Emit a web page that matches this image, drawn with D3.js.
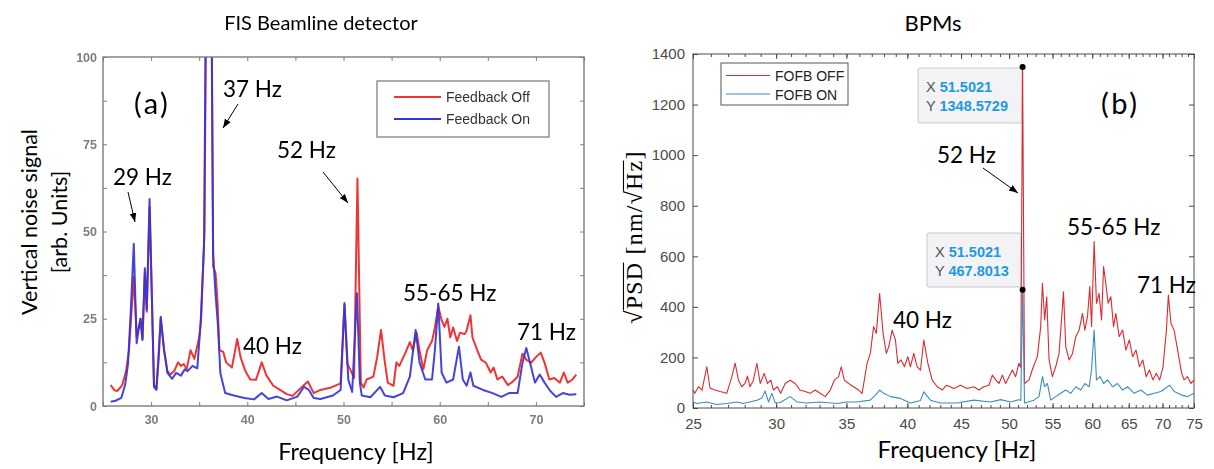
<!DOCTYPE html>
<html>
<head>
<meta charset="utf-8">
<script src="https://cdn.jsdelivr.net/npm/d3@7"></script>
<style>
  body { margin: 0; background: #fff; }
  svg { display: block; }
</style>
</head>
<body>
<svg id="fig" width="1214" height="469"></svg>
<script>
// ---------- (a) FIS beamline detector: vertical noise spectrum [frequency Hz, arb. units] ----------
const fisOff = [
  [25.8,6],[26.2,4.5],[26.5,4.3],[27.0,6],[27.4,10],[27.7,16],[28.2,37],[28.5,19.7],[28.9,25],[29.1,19],
  [29.35,38],[29.55,27],[29.84,57],[30.05,34],[30.3,6],[30.55,5],[31.0,25],[31.35,16],[31.7,10],[32.0,9],
  [32.4,10],[32.8,12.5],[33.1,11.5],[33.4,12],[33.7,10.5],[34.1,16],[34.5,13.5],[35.0,19.7],[35.2,25],
  [35.55,50],[35.8,150],[36.2,150],[36.45,40],[36.7,38],[36.9,30],[37.1,16],[37.5,15.5],[37.8,12.5],
  [38.4,11],[38.95,19.2],[39.3,14],[39.8,10],[40.3,7.6],[40.9,7.5],[41.5,12.5],[42.0,8.7],[42.7,5.8],
  [43.4,4.6],[44.1,3.4],[44.7,2.9],[45.6,5.2],[46.3,7],[46.9,3.7],[47.6,4.6],[48.6,5.2],[49.7,6.5],
  [50.1,29],[50.4,12],[50.7,10.5],[51.1,8],[51.45,65.2],[51.8,6.7],[52.1,5.3],[52.4,7.6],[53.1,8.4],
  [53.5,14],[53.9,21.8],[54.3,12.5],[54.6,6.7],[55.2,5.8],[55.5,12.5],[55.8,11.5],[56.4,15],[56.9,18.3],
  [57.2,16],[57.6,21],[57.9,16],[58.3,10.5],[58.7,16],[59.2,18.6],[59.5,22.5],[59.85,28.5],[60.2,24.6],
  [60.5,22.7],[60.8,25],[61.1,19.7],[61.4,22.5],[61.8,18.6],[62.1,21],[62.6,20.6],[62.8,21.6],[63.2,26],
  [63.4,19.7],[63.9,16],[64.3,13.3],[64.8,12.4],[65.3,9.6],[65.6,11],[66.0,7.6],[66.5,8.4],[67.1,6],
  [67.6,7],[68.1,8.4],[68.6,15],[69.0,13.3],[69.5,12.4],[70.0,14],[70.5,15.3],[70.9,12.4],[71.4,7.6],
  [71.9,8],[72.5,6.7],[72.9,9.6],[73.3,6.7],[73.8,7.6],[74.2,9]
];
const fisOn = [
  [25.8,1.2],[26.3,1.5],[26.9,2.3],[27.3,6],[27.6,12],[27.9,28],[28.2,46.5],[28.5,18],[28.7,22],[28.9,25],
  [29.1,19],[29.35,39.5],[29.55,27.5],[29.84,59.3],[30.05,35],[30.3,5.5],[30.55,4.6],[30.8,14],[31.0,25.6],
  [31.35,16],[31.7,9.4],[32.2,7.8],[32.6,9.5],[33.1,8.7],[33.5,10.5],[33.8,10],[34.3,11.5],[34.8,10.8],
  [35.15,23.7],[35.5,46],[35.8,150],[36.2,150],[36.45,43.8],[36.7,32],[36.95,23],[37.2,9.4],[37.7,3.7],
  [38.6,3],[39.7,2.3],[40.7,1.9],[41.5,3.7],[42.2,2],[43.1,2.7],[44.1,1.6],[45.2,2.7],[45.9,5.5],[46.4,4.6],
  [46.9,2.3],[47.6,2],[48.9,3],[49.7,4.6],[50.1,29.5],[50.5,7.5],[50.9,4],[51.4,32.3],[51.7,6.7],[51.9,3],
  [52.8,2.5],[53.8,5.5],[54.3,3],[55.2,2.5],[56.2,3.7],[56.9,8.4],[57.5,21.8],[57.9,12.5],[58.5,7.6],
  [59.2,7.6],[59.5,16],[59.85,29.4],[60.2,9.6],[60.7,6.7],[61.4,7.6],[62.0,17],[62.4,7.6],[62.8,5.8],
  [63.2,9.6],[63.5,5.8],[64.5,4.6],[65.5,3.7],[66.4,2.6],[67.2,3.7],[68.1,3.7],[68.6,12.3],[69.0,16.6],
  [69.4,12.3],[69.9,6.7],[70.4,9],[70.9,6.7],[71.5,4.3],[72.1,2.6],[72.8,3.7],[73.5,3.2],[74.2,3.4]
];
const fisXTicks = [30, 40, 50, 60, 70];
const fisXMinor = [25, 30, 35, 40, 45, 50, 55, 60, 65, 70, 75];
const fisYTicks = [0, 25, 50, 75, 100];
const fisYMinor = [0, 12.5, 25, 37.5, 50, 62.5, 75, 87.5, 100];
const fisSeries = ["Feedback Off", "Feedback On"];

// ---------- (b) BPMs: sqrt(PSD) spectrum [frequency Hz, nm/sqrt(Hz)] ----------
const bpmOff = [
  [25.0,71],[25.1,58],[25.3,84],[25.5,71],[25.77,163],[25.95,78],[26.24,71],[26.53,65],[26.92,58],
  [27.22,123],[27.42,177],[27.62,110],[27.82,84],[28.02,97],[28.17,126],[28.33,84],[28.54,110],[28.76,177],
  [28.97,97],[29.22,137],[29.44,97],[29.65,110],[29.82,71],[30.08,84],[30.3,58],[30.6,97],[30.94,110],
  [31.28,97],[31.62,71],[31.97,65],[32.33,58],[32.68,71],[33.04,58],[33.41,45],[33.78,71],[34.08,110],
  [34.4,123],[34.6,163],[34.84,110],[35.17,97],[35.55,84],[35.95,71],[36.22,58],[36.4,110],[36.62,177],
  [36.88,216],[37.15,322],[37.37,295],[37.64,453],[37.93,295],[38.2,216],[38.4,242],[38.69,308],[38.97,269],
  [39.17,177],[39.46,190],[39.75,163],[40.04,203],[40.27,163],[40.57,216],[40.87,163],[41.17,150],[41.47,269],
  [41.84,177],[42.24,110],[42.71,84],[43.18,71],[43.6,90],[44.29,77],[44.95,90],[45.6,77],[46.28,84],
  [46.8,71],[47.3,84],[47.84,90],[48.2,130],[48.55,111],[48.9,97],[49.27,130],[49.63,97],[49.99,124],
  [50.36,150],[50.72,124],[51.09,177],[51.3,160],[51.5021,1348.5729],[51.72,97],[52.23,111],[52.73,163],
  [53.2,203],[53.59,322],[53.79,493],[54.06,348],[54.3,440],[54.58,190],[54.98,124],[55.38,163],[55.79,216],
  [56.09,348],[56.33,460],[56.62,242],[57.03,190],[57.46,216],[57.87,282],[58.3,308],[58.73,374],[59.03,308],
  [59.38,361],[59.68,480],[59.91,322],[60.25,658],[60.56,414],[60.91,453],[61.24,348],[61.51,559],[61.81,493],
  [62.13,414],[62.5,440],[62.87,322],[63.18,374],[63.65,282],[64.13,308],[64.6,229],[65.08,269],[65.56,203],
  [66.05,229],[66.54,163],[67.03,190],[67.53,124],[68.03,150],[68.54,111],[69.05,137],[69.56,111],[70.08,163],
  [70.6,308],[70.9,447],[71.3,335],[71.8,308],[72.45,216],[73.0,137],[73.4,111],[73.95,124],[74.5,97],[75.0,111]
];
const bpmOn = [
  [25.0,24],[25.2,18],[25.77,24],[26.33,14],[26.92,18],[27.52,24],[27.92,18],[28.76,31],[29.08,40],
  [29.29,67],[29.5,24],[29.72,58],[29.94,20],[30.27,22],[30.94,45],[31.4,24],[32.1,20],[33.04,24],
  [34.28,18],[35.0,24],[35.8,24],[36.88,31],[37.3,51],[37.64,71],[37.98,58],[38.55,45],[39.4,38],
  [40.27,20],[41.17,30],[41.47,64],[42.08,31],[43.0,20],[44.6,20],[46.28,31],[48.0,24],[49.08,33],
  [50.17,24],[51.09,33],[51.3,30],[51.5021,467.8013],[51.72,20],[52.8,31],[53.39,45],[53.79,124],
  [54.06,84],[54.38,97],[54.78,31],[55.38,45],[56.0,58],[56.62,71],[57.24,58],[57.87,84],[58.51,71],
  [59.03,97],[59.59,84],[59.91,150],[60.25,308],[60.56,111],[61.05,124],[61.51,97],[62.05,111],[62.73,84],
  [63.41,97],[64.13,71],[64.84,84],[65.78,58],[66.75,71],[67.73,51],[68.74,58],[69.76,65],[71.1,90],
  [71.83,65],[73.0,51],[73.95,45],[75.0,58]
];
const bpmXTicks = [25, 30, 35, 40, 45, 50, 55, 60, 65, 70, 75];
const bpmXMinor = d3.range(25, 76, 1);
const bpmYTicks = [0, 200, 400, 600, 800, 1000, 1200, 1400];
const bpmSeries = ["FOFB OFF", "FOFB ON"];
// indices of the two marked points (the 52 Hz line)
const bpmOffTip = bpmOff.findIndex(d => d[1] === d3.max(bpmOff, e => e[1]));
const bpmOnTip = bpmOn.findIndex(d => d[1] === d3.max(bpmOn, e => e[1]));

// ---------- styling ----------
const LABEL_FONT = "Lato, 'Noto Sans', sans-serif";
const TICK_FONT = "'Liberation Sans', Arial, sans-serif";
const SERIF_FONT = "'Liberation Serif', 'DejaVu Serif', serif";
const fisColor = { off: "#ee3434", on: "#3434d8" };
const bpmColor = { off: "#dc2a2f", on: "#3c8cc0" };

const svg = d3.select("#fig");
svg.append("rect").attr("width", 1214).attr("height", 469).attr("fill", "#fff");
const defs = svg.append("defs");
defs.append("marker")
  .attr("id", "head").attr("viewBox", "0 0 10 10").attr("refX", 10).attr("refY", 5)
  .attr("markerWidth", 9).attr("markerHeight", 9).attr("markerUnits", "userSpaceOnUse")
  .attr("orient", "auto")
  .append("path").attr("d", "M0,1.3L10,5L0,8.7z").attr("fill", "#000");
defs.append("filter").attr("id", "soft")
  .append("feGaussianBlur").attr("stdDeviation", 0.45);

function label(g, x, y, txt, size, anchor, spacing) {
  return g.append("text").attr("x", x).attr("y", y).text(txt)
    .attr("font-family", LABEL_FONT).attr("font-size", size)
    .attr("letter-spacing", spacing || 0)
    .attr("text-anchor", anchor || "start").attr("fill", "#000");
}
function arrow(g, x1, y1, x2, y2) {
  g.append("line").attr("x1", x1).attr("y1", y1).attr("x2", x2).attr("y2", y2)
    .attr("stroke", "#000").attr("stroke-width", 1).attr("marker-end", "url(#head)");
}
function styleAxis(g, color, font, size, weight) {
  g.select(".domain").remove();
  g.attr("font-family", font).attr("font-size", size);
  g.selectAll("line").attr("stroke", color);
  g.selectAll("text").attr("fill", color).attr("font-weight", weight || "normal");
}

// =================== panel (a) ===================
const A = { x0: 103, x1: 584, y0: 57, y1: 406 };
const xA = d3.scaleLinear().domain([25, 75]).range([A.x0, A.x1]);
const yA = d3.scaleLinear().domain([0, 100]).range([A.y1, A.y0]);
defs.append("clipPath").attr("id", "clipA").append("rect")
  .attr("x", A.x0).attr("y", A.y0).attr("width", A.x1 - A.x0).attr("height", A.y1 - A.y0);

const gA = svg.append("g");
const gAsoft = gA.append("g").attr("filter", "url(#soft)");
const axA = "#7d7d7d";
gAsoft.append("g").attr("transform", `translate(0,${A.y1})`)
  .call(d3.axisBottom(xA).tickValues(fisXMinor).tickSizeInner(-4).tickSizeOuter(0).tickPadding(9)
    .tickFormat(d => fisXTicks.includes(d) ? d : ""))
  .call(g => styleAxis(g, axA, TICK_FONT, 12.5, "bold"));
gAsoft.append("g").attr("transform", `translate(0,${A.y0})`)
  .call(d3.axisTop(xA).tickValues(fisXMinor).tickSizeInner(-4).tickSizeOuter(0).tickFormat(""))
  .call(g => styleAxis(g, axA, TICK_FONT, 12.5));
gAsoft.append("g").attr("transform", `translate(${A.x0},0)`)
  .call(d3.axisLeft(yA).tickValues(fisYMinor).tickSizeInner(-4).tickSizeOuter(0).tickPadding(6)
    .tickFormat(d => fisYTicks.includes(d) ? d : ""))
  .call(g => styleAxis(g, axA, TICK_FONT, 12.5, "bold"));
gAsoft.append("g").attr("transform", `translate(${A.x1},0)`)
  .call(d3.axisRight(yA).tickValues(fisYMinor).tickSizeInner(-4).tickSizeOuter(0).tickFormat(""))
  .call(g => styleAxis(g, axA, TICK_FONT, 12.5));

const lineA = d3.line().x(d => xA(d[0])).y(d => yA(d[1]));
const plotA = gAsoft.append("g").attr("clip-path", "url(#clipA)");
plotA.append("path").datum(fisOff).attr("d", lineA).attr("fill", "none")
  .attr("stroke", fisColor.off).attr("stroke-width", 2).attr("stroke-linejoin", "round");
plotA.append("path").datum(fisOn).attr("d", lineA).attr("fill", "none")
  .attr("stroke", fisColor.on).attr("stroke-width", 2).attr("stroke-linejoin", "round")
  .attr("stroke-opacity", 0.92);

gAsoft.append("rect").attr("x", A.x0).attr("y", A.y0).attr("width", A.x1 - A.x0).attr("height", A.y1 - A.y0)
  .attr("fill", "none").attr("stroke", axA).attr("stroke-width", 1.4);

// legend (a)
const legA = gAsoft.append("g").attr("transform", "translate(377,81)");
legA.append("rect").attr("width", 172).attr("height", 56).attr("fill", "#fff")
  .attr("stroke", "#8a8a8a").attr("stroke-width", 1.4);
[fisColor.off, fisColor.on].forEach((c, i) => {
  legA.append("line").attr("x1", 17).attr("x2", 64).attr("y1", 16 + i * 22).attr("y2", 16 + i * 22)
    .attr("stroke", c).attr("stroke-width", 2);
  legA.append("text").attr("x", 69).attr("y", 21 + i * 22).text(fisSeries[i])
    .attr("font-family", TICK_FONT).attr("font-size", 14).attr("fill", "#333");
});

// titles and annotations (a)
label(gA, 321, 30, "FIS Beamline detector", 20, "middle");
label(gA, 356, 460, "Frequency [Hz]", 23.5, "middle");
const yLabA = gA.append("g").attr("transform", "translate(0,222) rotate(-90)");
yLabA.append("text").attr("x", 0).attr("y", 37).text("Vertical noise signal")
  .attr("font-family", LABEL_FONT).attr("font-size", 21.5).attr("text-anchor", "middle");
yLabA.append("text").attr("x", 0).attr("y", 67).text("[arb. Units]")
  .attr("font-family", LABEL_FONT).attr("font-size", 21.5).attr("text-anchor", "middle");
label(gA, 134, 114, "(a)", 29, "start", 2.5);
label(gA, 223, 97, "37 Hz", 22.5);
label(gA, 113, 185, "29 Hz", 22.5);
label(gA, 277, 158, "52 Hz", 22.5);
label(gA, 243, 354, "40 Hz", 22.5);
label(gA, 403, 301, "55-65 Hz", 22.5);
label(gA, 517, 340, "71 Hz", 22.5);
arrow(gA, 128, 192, 135, 222);
arrow(gA, 238, 104, 223, 128);
arrow(gA, 323, 172, 348, 203);

// =================== panel (b) ===================
const B = { x0: 693, x1: 1194, y0: 54, y1: 408 };
const xB = d3.scaleLog().domain([25, 75]).range([B.x0, B.x1]);
const yB = d3.scaleLinear().domain([0, 1400]).range([B.y1, B.y0]);
const gB = svg.append("g");
const axB = "#4a4a4a";

gB.append("g").attr("transform", `translate(0,${B.y1})`)
  .call(d3.axisBottom(xB).tickValues(bpmXMinor).tickSizeInner(-3).tickSizeOuter(0).tickFormat(""))
  .call(g => styleAxis(g, axB, TICK_FONT, 15));
gB.append("g").attr("transform", `translate(0,${B.y1})`)
  .call(d3.axisBottom(xB).tickValues(bpmXTicks).tickSizeInner(-5).tickSizeOuter(0).tickPadding(10)
    .tickFormat(d3.format("d")))
  .call(g => styleAxis(g, axB, TICK_FONT, 15));
gB.append("g").attr("transform", `translate(0,${B.y0})`)
  .call(d3.axisTop(xB).tickValues(bpmXMinor).tickSizeInner(-3).tickSizeOuter(0).tickFormat(""))
  .call(g => styleAxis(g, axB, TICK_FONT, 15));
gB.append("g").attr("transform", `translate(0,${B.y0})`)
  .call(d3.axisTop(xB).tickValues(bpmXTicks).tickSizeInner(-5).tickSizeOuter(0).tickFormat(""))
  .call(g => styleAxis(g, axB, TICK_FONT, 15));
gB.append("g").attr("transform", `translate(${B.x0},0)`)
  .call(d3.axisLeft(yB).tickValues(bpmYTicks).tickSizeInner(-5).tickSizeOuter(0).tickPadding(8)
    .tickFormat(d3.format("d")))
  .call(g => styleAxis(g, axB, TICK_FONT, 15));
gB.append("g").attr("transform", `translate(${B.x1},0)`)
  .call(d3.axisRight(yB).tickValues(bpmYTicks).tickSizeInner(-5).tickSizeOuter(0).tickFormat(""))
  .call(g => styleAxis(g, axB, TICK_FONT, 15));

// data tips (drawn under the traces)
function dataTip(g, bx, by, bw, bh, pt) {
  const t = g.append("g");
  t.append("rect").attr("x", bx).attr("y", by).attr("width", bw).attr("height", bh).attr("rx", 2)
    .attr("fill", "#f3f3f5").attr("stroke", "#c9c9cc").attr("stroke-width", 1);
  [["X", pt[0]], ["Y", pt[1]]].forEach((r, i) => {
    const tx = t.append("text").attr("x", bx + 8).attr("y", by + 24 + i * 19)
      .attr("font-family", TICK_FONT).attr("font-size", 14.5);
    tx.append("tspan").text(r[0] + " ").attr("fill", "#555");
    tx.append("tspan").text(r[1].toFixed(4)).attr("fill", "#1e9ae0").attr("font-weight", "bold");
  });
}
dataTip(gB, 918, 68, 104, 55, bpmOff[bpmOffTip]);
dataTip(gB, 927, 233, 94, 54, bpmOn[bpmOnTip]);

const lineB = d3.line().x(d => xB(d[0])).y(d => yB(d[1]));
gB.append("path").datum(bpmOff).attr("d", lineB).attr("fill", "none")
  .attr("stroke", bpmColor.off).attr("stroke-width", 1.1).attr("stroke-linejoin", "round");
gB.append("path").datum(bpmOn).attr("d", lineB).attr("fill", "none")
  .attr("stroke", bpmColor.on).attr("stroke-width", 1.1).attr("stroke-linejoin", "round");
[bpmOff[bpmOffTip], bpmOn[bpmOnTip]].forEach(p => {
  gB.append("circle").attr("cx", xB(p[0])).attr("cy", yB(p[1])).attr("r", 3).attr("fill", "#000");
});

gB.append("rect").attr("x", B.x0).attr("y", B.y0).attr("width", B.x1 - B.x0).attr("height", B.y1 - B.y0)
  .attr("fill", "none").attr("stroke", axB).attr("stroke-width", 1);

// legend (b)
const legB = gB.append("g").attr("transform", "translate(721,63)");
legB.append("rect").attr("width", 127).attr("height", 42).attr("fill", "#fff")
  .attr("stroke", "#555").attr("stroke-width", 1);
[bpmColor.off, bpmColor.on].forEach((c, i) => {
  legB.append("line").attr("x1", 5).attr("x2", 49).attr("y1", 12.5 + i * 18.5).attr("y2", 12.5 + i * 18.5)
    .attr("stroke", c).attr("stroke-width", 1.2);
  legB.append("text").attr("x", 54).attr("y", 18 + i * 18.5).text(bpmSeries[i])
    .attr("font-family", TICK_FONT).attr("font-size", 14).attr("fill", "#222");
});

// titles and annotations (b)
label(gB, 933, 31, "BPMs", 22, "middle");
label(gB, 957, 458, "Frequency [Hz]", 24, "middle");
label(gB, 1101, 114, "(b)", 29, "start", 2.5);
label(gB, 937, 163, "52 Hz", 22.5);
label(gB, 1067, 235, "55-65 Hz", 22.5);
label(gB, 1137, 293, "71 Hz", 22.5);
label(gB, 893, 328, "40 Hz", 22.5);
arrow(gB, 983, 168, 1018, 193);

// y label with radical signs: √PSD [nm/√Hz]
const yLabB = gB.append("g").attr("transform", "translate(642,237) rotate(-90)");
const parts = [
  { t: "\u221A", bar: false }, { t: "PSD", bar: true }, { t: " [nm/", bar: false },
  { t: "\u221A", bar: false }, { t: "Hz", bar: true }, { t: "]", bar: false }
];
let cx = 0;
const placed = parts.map(p => {
  const el = yLabB.append("text").attr("x", cx).attr("y", 0).text(p.t)
    .attr("font-family", SERIF_FONT).attr("font-size", 24).attr("fill", "#000")
    .attr("letter-spacing", 1.2)
    .style("white-space", "pre");
  const w = el.node().getComputedTextLength();
  const r = { el, x: cx, w, bar: p.bar };
  cx += w;
  return r;
});
const total = cx;
placed.forEach(p => {
  p.el.attr("x", p.x - total / 2);
  if (p.bar) {
    yLabB.append("line").attr("x1", p.x - total / 2 - 1).attr("x2", p.x - total / 2 + p.w - 1)
      .attr("y1", -18.5).attr("y2", -18.5).attr("stroke", "#000").attr("stroke-width", 1.1);
  }
});
</script>
</body>
</html>
